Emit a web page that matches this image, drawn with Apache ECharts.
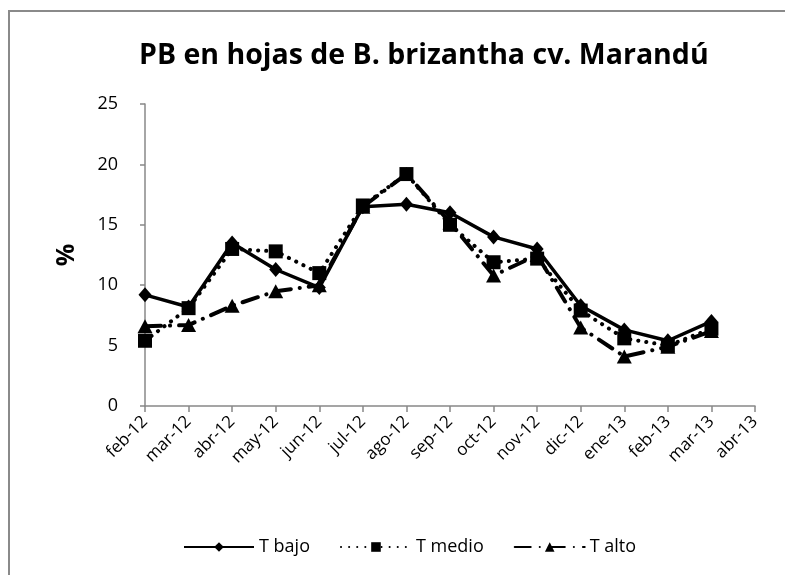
<!DOCTYPE html>
<html>
<head>
<meta charset="utf-8">
<script src="https://cdn.jsdelivr.net/npm/echarts@6/dist/echarts.min.js"></script>
<style>
  html, body { margin: 0; padding: 0; background: #fff; }
  #chart { width: 785px; height: 575px; }
</style>
</head>
<body>
<div id="chart"></div>
<script>
const months = ['feb-12', 'mar-12', 'abr-12', 'may-12', 'jun-12', 'jul-12', 'ago-12', 'sep-12', 'oct-12', 'nov-12', 'dic-12', 'ene-13', 'feb-13', 'mar-13', 'abr-13']
const tBajo = [9.2, 8.2, 13.5, 11.3, 9.8, 16.5, 16.7, 16.0, 14.0, 13.0, 8.3, 6.3, 5.4, 7.0]
const tMedio = [5.4, 8.1, 13.0, 12.8, 11.0, 16.6, 19.2, 15.0, 11.9, 12.2, 7.9, 5.6, 5.0, 6.4]
const tAlto = [6.6, 6.7, 8.3, 9.5, 10.0, 16.5, 19.2, 15.2, 10.8, 12.5, 6.5, 4.1, 4.9, 6.2]
const yTicks = { min: 0, max: 25, interval: 5 }

const font = '"Open Sans", sans-serif'
const axisGray = '#888888'

const chart = echarts.init(document.getElementById('chart'))

chart.setOption({
  animation: false,
  backgroundColor: '#ffffff',
  textStyle: { fontFamily: font },
  title: {
    text: 'PB en hojas de B. brizantha cv. Marandú',
    left: 134,
    top: 36,
    textStyle: { fontSize: 28.5, fontWeight: 'bold', color: '#000', fontFamily: font }
  },
  graphic: [{
    type: 'rect',
    shape: { x: 9, y: 11, width: 800, height: 600 },
    style: { fill: 'none', stroke: '#8a8a8a', lineWidth: 2 },
    silent: true
  }],
  legend: {
    bottom: 14,
    left: 178,
    itemWidth: 70,
    itemHeight: 12,
    itemGap: 30,
    textStyle: { fontSize: 18, color: '#000', fontFamily: font },
    data: ['T bajo', 'T medio', 'T alto']
  },
  grid: { left: 145, right: 30, top: 104, bottom: 169 },
  xAxis: {
    type: 'category',
    data: months,
    boundaryGap: false,
    axisLine: { lineStyle: { color: axisGray, width: 1.5 } },
    axisTick: { alignWithLabel: true, length: 6, lineStyle: { color: axisGray, width: 1.5 } },
    axisLabel: { rotate: 45, fontSize: 17, color: '#000', margin: 13, interval: 0 },
    splitLine: { show: false }
  },
  yAxis: {
    type: 'value',
    min: yTicks.min,
    max: yTicks.max,
    interval: yTicks.interval,
    name: '%',
    nameLocation: 'middle',
    nameRotate: 90,
    nameGap: 66,
    nameTextStyle: { fontSize: 25, fontWeight: 'bold', color: '#000' },
    axisLine: { show: true, lineStyle: { color: axisGray, width: 1.5 } },
    axisTick: { show: true, length: 5, lineStyle: { color: axisGray, width: 1.5 } },
    axisLabel: { fontSize: 18, color: '#000', margin: 27 },
    splitLine: { show: false }
  },
  series: [
    {
      name: 'T bajo',
      type: 'line',
      data: tBajo,
      symbol: 'diamond',
      symbolSize: [13, 15],
      itemStyle: { color: '#000' },
      lineStyle: { color: '#000', width: 3.5 }
    },
    {
      name: 'T medio',
      type: 'line',
      data: tMedio,
      symbol: 'rect',
      symbolSize: 14,
      itemStyle: { color: '#000' },
      lineStyle: { color: '#000', width: 4, type: [0.1, 8], cap: 'round' }
    },
    {
      name: 'T alto',
      type: 'line',
      data: tAlto,
      symbol: 'triangle',
      symbolSize: [15, 14],
      itemStyle: { color: '#000' },
      lineStyle: { color: '#000', width: 4, type: [16, 9, 0.1, 9], cap: 'round' }
    }
  ]
})
</script>
</body>
</html>
